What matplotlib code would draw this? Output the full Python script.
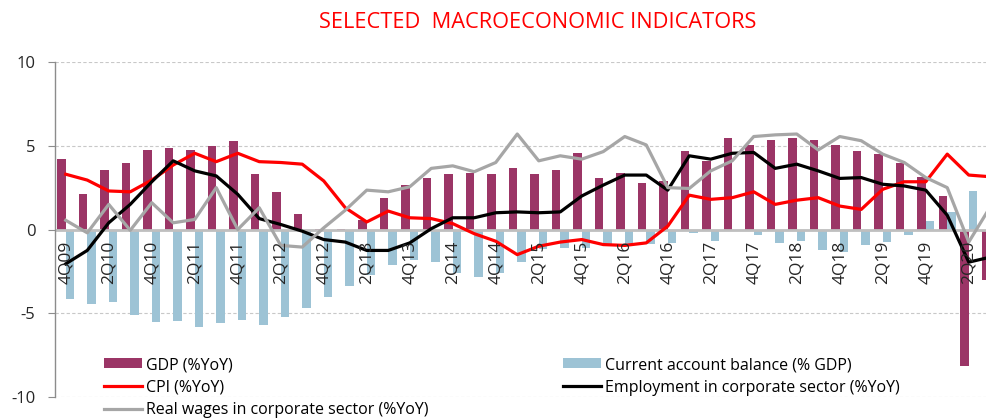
import numpy as np
import matplotlib.pyplot as plt
from matplotlib.transforms import offset_copy

plt.rcParams['font.family'] = ['Open Sans', 'DejaVu Sans']

quarters = ['4Q09',
            '1Q10', '2Q10', '3Q10', '4Q10',
            '1Q11', '2Q11', '3Q11', '4Q11',
            '1Q12', '2Q12', '3Q12', '4Q12',
            '1Q13', '2Q13', '3Q13', '4Q13',
            '1Q14', '2Q14', '3Q14', '4Q14',
            '1Q15', '2Q15', '3Q15', '4Q15',
            '1Q16', '2Q16', '3Q16', '4Q16',
            '1Q17', '2Q17', '3Q17', '4Q17',
            '1Q18', '2Q18', '3Q18', '4Q18',
            '1Q19', '2Q19', '3Q19', '4Q19',
            '1Q20', '2Q20', '3Q20']

gdp = [4.2,
       2.1, 3.55, 4.0, 4.75,
       4.85, 4.75, 5.0, 5.3,
       3.3, 2.25, 0.9, 0.05,
       0.05, 0.55, 1.9, 2.65,
       3.1, 3.3, 3.35, 3.3,
       3.65, 3.3, 3.55, 4.55,
       3.1, 3.35, 2.8, 2.9,
       4.7, 4.1, 5.45, 5.05,
       5.35, 5.45, 5.35, 5.05,
       4.7, 4.5, 3.95, 3.15,
       2.0, -8.15, -3.0]

current_account = [-4.15,
                   -4.45, -4.35, -5.1, -5.55,
                   -5.45, -5.8, -5.6, -5.4,
                   -5.7, -5.2, -4.7, -4.05,
                   -3.4, -2.7, -2.1, -1.85,
                   -1.95, -2.6, -2.85, -2.6,
                   -1.95, -1.15, -1.1, -1.1,
                   -0.85, -0.85, -0.85, -0.8,
                   -0.2, -0.7, -0.05, -0.35,
                   -0.8, -0.7, -1.25, -1.35,
                   -0.95, -0.75, -0.3, 0.5,
                   1.05, 2.3, 2.4]

cpi = [3.3,
       2.95, 2.3, 2.25, 2.95,
       3.85, 4.55, 4.05, 4.55,
       4.05, 4.0, 3.9, 2.9,
       1.3, 0.45, 1.1, 0.7,
       0.65, 0.35, -0.25, -0.7,
       -1.5, -1.0, -0.75, -0.6,
       -0.9, -0.95, -0.8, 0.2,
       2.05, 1.8, 1.9, 2.25,
       1.5, 1.75, 1.9, 1.4,
       1.2, 2.4, 2.85, 2.85,
       4.5, 3.25, 3.15]

employment = [-2.05,
              -1.25, 0.4, 1.5, 2.85,
              4.1, 3.5, 3.2, 2.1,
              0.65, 0.3, -0.1, -0.6,
              -0.75, -1.25, -1.25, -0.8,
              0.05, 0.7, 0.7, 1.0,
              1.05, 1.0, 1.05, 2.0,
              2.65, 3.25, 3.25, 2.35,
              4.4, 4.2, 4.55, 4.6,
              3.65, 3.9, 3.5, 3.05,
              3.1, 2.7, 2.6, 2.35,
              0.85, -1.95, -1.65]

real_wages = [0.55,
              -0.2, 1.5, -0.05, 1.6,
              0.4, 0.6, 2.5, 0.0,
              1.3, -0.95, -1.05, 0.1,
              1.15, 2.35, 2.25, 2.55,
              3.65, 3.8, 3.45, 4.0,
              5.7, 4.1, 4.4, 4.2,
              4.65, 5.55, 5.05, 2.5,
              2.45, 3.5, 4.1, 5.55,
              5.65, 5.7, 4.75, 5.55,
              5.3, 4.5, 4.0, 3.1,
              2.5, -0.75, 1.35]

x = np.arange(len(quarters))

fig = plt.figure(figsize=(9.87, 4.19), dpi=100)
ax = fig.add_axes([55 / 987, 22 / 419, 946 / 987, 335 / 419])

b1 = ax.bar(x - 0.2, gdp, width=0.4, color='#9B3566', label='GDP (%YoY)', zorder=2)
b2 = ax.bar(x + 0.2, current_account, width=0.4, color='#9DC3D5',
            label='Current account balance (% GDP)', zorder=2)
ax.axhline(0, color='#BFBFBF', lw=2.0, zorder=2.5)
l1, = ax.plot(x, cpi, color='#FF0000', lw=2.3, label='CPI (%YoY)', zorder=3)
l2, = ax.plot(x, employment, color='black', lw=2.3,
              label='Employment in corporate sector (%YoY)', zorder=3)
l3, = ax.plot(x, real_wages, color='#A6A6A6', lw=2.3,
              label='Real wages in corporate sector (%YoY)', zorder=3)

ax.set_xlim(-0.5, len(quarters) - 0.5)
ax.set_ylim(-10, 10)
ax.set_yticks([-10, -5, 0, 5, 10])
ax.set_yticklabels(['-10', '-5', '0', '5', '10'])
for yv in [-10, -5, 5, 10]:
    ax.axhline(yv, color='#C8C8C8', lw=0.8, ls=(0, (3, 2)), zorder=1)

ax.spines['top'].set_visible(False)
ax.spines['right'].set_visible(False)
ax.spines['bottom'].set_visible(False)
ax.spines['left'].set_color('#8C8C8C')
ax.spines['left'].set_linewidth(1.0)

# quarter labels sit just under the zero line, on top of the bars
ax.set_xticks([])
lab_tr = offset_copy(ax.transData, fig=fig, x=0, y=-8, units='points')
for xi, q in zip(x[::2], quarters[::2]):
    ax.text(xi, 0, q, transform=lab_tr, rotation=90, fontsize=12.5,
            color='#262626', ha='center', va='top', zorder=4)

ax.tick_params(axis='y', length=5, pad=9, color='#8C8C8C', labelsize=12,
               labelcolor='#262626')

fig.text(538 / 987, 1 - 23 / 419, 'SELECTED  MACROECONOMIC INDICATORS',
         color='#FF0000', fontsize=15.7, ha='center', va='center')

fig.legend([b1, l1, l3, b2, l2],
           ['GDP (%YoY)', 'CPI (%YoY)', 'Real wages in corporate sector (%YoY)',
            'Current account balance (% GDP)', 'Employment in corporate sector (%YoY)'],
           loc='upper left', bbox_to_anchor=(104 / 987, 1 - 357 / 419),
           ncol=2, frameon=False, fontsize=11.5, borderpad=0, borderaxespad=0,
           handlelength=2.4, handleheight=0.6, handletextpad=0.2,
           labelspacing=0.42, columnspacing=8.45)

fig.savefig('out.png', dpi=100)
